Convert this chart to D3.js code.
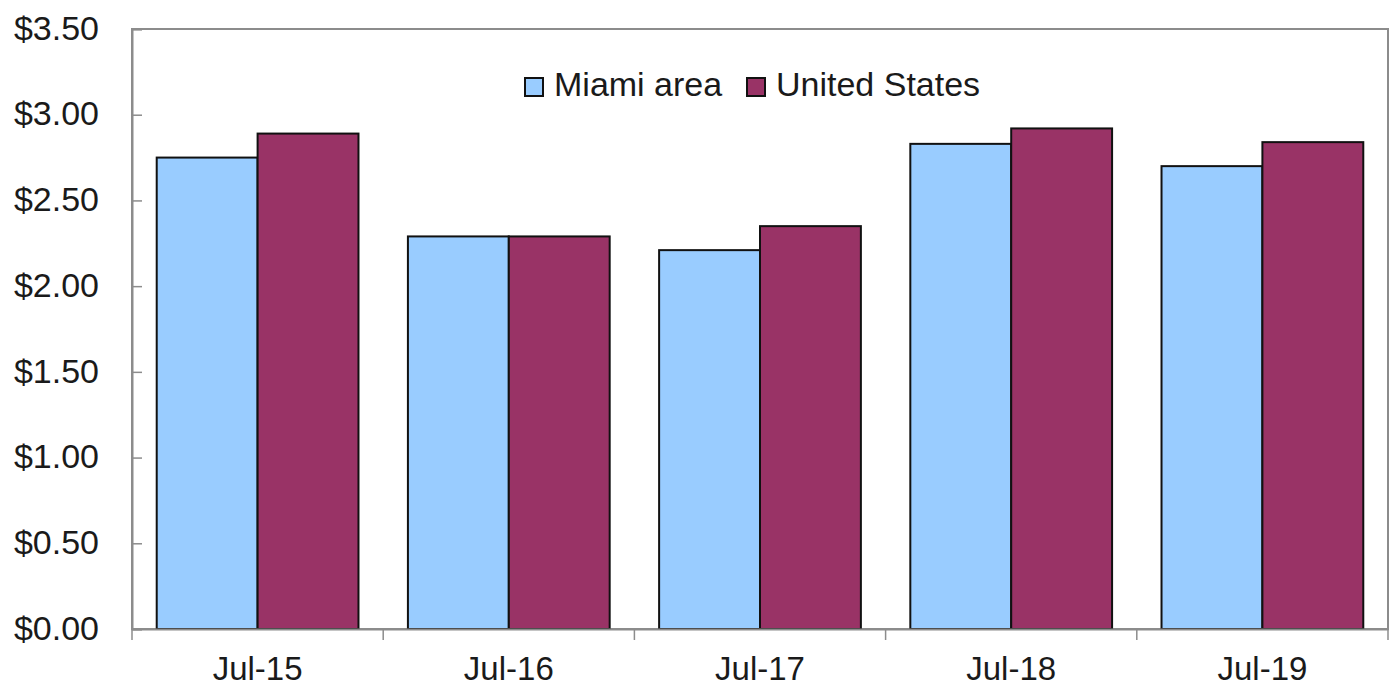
<!DOCTYPE html>
<html>
<head>
<meta charset="utf-8">
<script src="https://cdn.jsdelivr.net/npm/d3@7"></script>
<style>
  body { margin: 0; background: #fff; }
  svg { display: block; font-family: "Liberation Sans", Arial, sans-serif; }
</style>
</head>
<body>
<svg width="1393" height="690"></svg>
<script>
const categories = ['Jul-15', 'Jul-16', 'Jul-17', 'Jul-18', 'Jul-19'];
const seriesNames = ['Miami area', 'United States'];
const miamiVals = [2.75, 2.29, 2.21, 2.83, 2.70];
const usVals = [2.89, 2.29, 2.35, 2.92, 2.84];
const yTicks = [0, 0.5, 1, 1.5, 2, 2.5, 3, 3.5];
const colors = ['#99ccff', '#993366'];

const margin = { top: 29, right: 5, bottom: 61, left: 132 };
const width = 1393 - margin.left - margin.right;
const height = 690 - margin.top - margin.bottom;

const svg = d3.select('svg');
const chart = svg.append('g')
    .attr('transform', `translate(${margin.left}, ${margin.top})`);

const xScale = d3.scaleBand()
    .domain(categories)
    .range([0, width])
    .paddingInner(0)
    .paddingOuter(0);

const inner = d3.scaleBand()
    .domain(seriesNames)
    .range([0, xScale.bandwidth()])
    .paddingOuter(0.245)
    .paddingInner(0);

const yScale = d3.scaleLinear()
    .domain([0, 3.5])
    .range([height, 0]);

// plot area border
chart.append('rect')
    .attr('width', width)
    .attr('height', height)
    .attr('fill', 'none')
    .attr('stroke', '#8c8c8c')
    .attr('stroke-width', 2);

const data = categories.map((c, i) => ({ cat: c, vals: [miamiVals[i], usVals[i]] }));

const groups = chart.selectAll('.grp')
    .data(data)
    .enter()
    .append('g')
    .attr('transform', d => `translate(${xScale(d.cat)}, 0)`);

groups.selectAll('rect')
    .data(d => d.vals.map((v, j) => ({ name: seriesNames[j], v: v, j: j })))
    .enter()
    .append('rect')
    .attr('x', d => inner(d.name))
    .attr('y', d => yScale(d.v))
    .attr('width', inner.bandwidth())
    .attr('height', d => height - yScale(d.v))
    .attr('fill', d => colors[d.j])
    .attr('stroke', '#111')
    .attr('stroke-width', 2);

// y axis
const yAxis = chart.append('g')
    .call(d3.axisLeft(yScale)
        .tickValues(yTicks)
        .tickSize(-10)
        .tickPadding(33)
        .tickFormat(d => '$' + d3.format('.2f')(d)));
yAxis.select('.domain').attr('stroke', '#8c8c8c').attr('stroke-width', 2);
yAxis.selectAll('.tick line').attr('stroke', '#8c8c8c').attr('stroke-width', 1.5);
yAxis.selectAll('.tick text')
    .attr('font-size', 34)
    .attr('fill', '#1a1a1a')
    .attr('dy', '0.3em')
    .attr('font-family', '"Liberation Sans", Arial, sans-serif');

// x axis: ticks at category boundaries
const xAxis = chart.append('g')
    .attr('transform', `translate(0, ${height})`)
    .call(d3.axisBottom(xScale).tickSize(0).tickPadding(28));
xAxis.select('.domain').attr('stroke', '#8c8c8c').attr('stroke-width', 2);
xAxis.selectAll('.tick text')
    .attr('font-size', 33)
    .attr('fill', '#1a1a1a')
    .attr('font-family', '"Liberation Sans", Arial, sans-serif');

const bounds = categories.map(c => xScale(c)).concat([width]);
chart.append('g')
    .attr('transform', `translate(0, ${height})`)
    .selectAll('line')
    .data(bounds)
    .enter()
    .append('line')
    .attr('x1', d => d).attr('x2', d => d)
    .attr('y1', 0).attr('y2', 11)
    .attr('stroke', '#8c8c8c')
    .attr('stroke-width', 1.5);

// legend
const legend = svg.append('g').attr('transform', 'translate(525, 78)');
const legendX = [0, 222];
seriesNames.forEach((name, i) => {
    const g = legend.append('g').attr('transform', `translate(${legendX[i]}, 0)`);
    g.append('rect')
        .attr('width', 18).attr('height', 18)
        .attr('fill', colors[i])
        .attr('stroke', '#111')
        .attr('stroke-width', 2);
    g.append('text')
        .attr('x', 29)
        .attr('y', 18)
        .attr('font-size', 34)
        .attr('fill', '#1a1a1a')
        .text(name);
});
</script>
</body>
</html>
